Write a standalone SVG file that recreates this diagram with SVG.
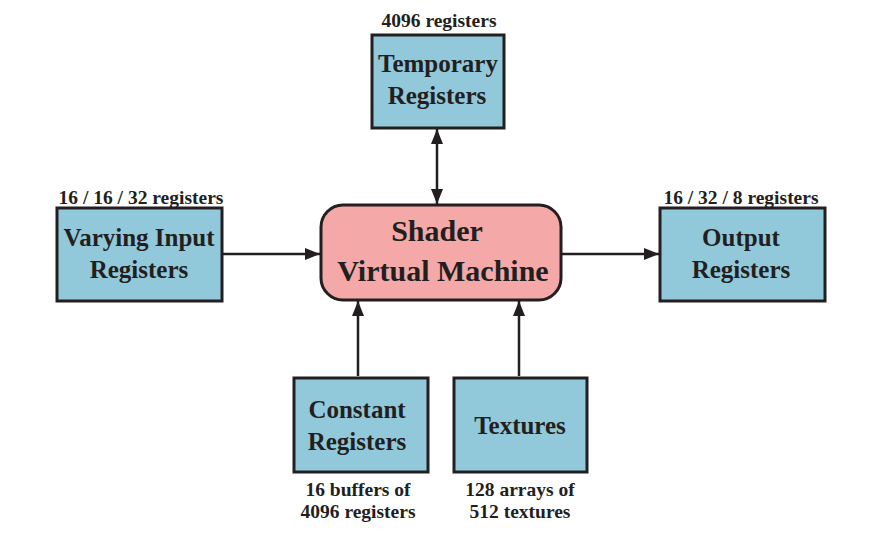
<svg xmlns="http://www.w3.org/2000/svg" width="890" height="542" viewBox="0 0 890 542">
<style>
.box{fill:#92C9DA;stroke:#231F20;stroke-width:3}
.sm{fill:#F4A9A8;stroke:#231F20;stroke-width:3}
.t{font-family:"Liberation Serif",serif;font-weight:bold;font-size:25px;fill:#231F20;text-anchor:middle}
.tb{font-family:"Liberation Serif",serif;font-weight:bold;font-size:30px;fill:#231F20;text-anchor:middle}
.l{font-family:"Liberation Serif",serif;font-weight:bold;font-size:19.5px;fill:#231F20;text-anchor:middle}
.c{stroke:#231F20;stroke-width:2.5;fill:none}
</style>
<defs>
<marker id="ah" viewBox="0 0 10 10" refX="10" refY="5" markerWidth="6" markerHeight="6" orient="auto-start-reverse" markerUnits="strokeWidth">
<path d="M0,1 L10,5 L0,9 z" fill="#231F20"/>
</marker>
</defs>
<rect width="890" height="542" fill="#fff"/>
<g id="connectors">
<line class="c" x1="437" y1="129" x2="437" y2="204" marker-start="url(#ah)" marker-end="url(#ah)"/>
<line class="c" x1="223" y1="254" x2="320" y2="254" marker-end="url(#ah)"/>
<line class="c" x1="562" y1="254" x2="659" y2="254" marker-end="url(#ah)"/>
<line class="c" x1="358" y1="376" x2="358" y2="301" marker-end="url(#ah)"/>
<line class="c" x1="519" y1="376" x2="519" y2="301" marker-end="url(#ah)"/>
</g>
<g id="temporary">
<text class="l" x="439" y="27">4096 registers</text>
<rect class="box" x="372" y="35" width="132" height="93"/>
<text class="t" x="438" y="72">Temporary</text>
<text class="t" x="437" y="104">Registers</text>
</g>
<g id="shader">
<rect class="sm" x="321" y="205" width="240" height="95" rx="22"/>
<text class="tb" x="437" y="241">Shader</text>
<text class="tb" x="443" y="281">Virtual Machine</text>
</g>
<g id="varying">
<text class="l" x="141" y="204">16 / 16 / 32 registers</text>
<rect class="box" x="57" y="208" width="165" height="93"/>
<text class="t" x="139" y="246">Varying Input</text>
<text class="t" x="139" y="278">Registers</text>
</g>
<g id="output">
<text class="l" x="741" y="204">16 / 32 / 8 registers</text>
<rect class="box" x="660" y="208" width="165" height="93"/>
<text class="t" x="741" y="246">Output</text>
<text class="t" x="741" y="278">Registers</text>
</g>
<g id="constant">
<rect class="box" x="294" y="378" width="134" height="94"/>
<text class="t" x="357" y="418">Constant</text>
<text class="t" x="357" y="450">Registers</text>
<text class="l" x="358" y="496">16 buffers of</text>
<text class="l" x="358" y="518">4096 registers</text>
</g>
<g id="textures">
<rect class="box" x="454" y="378" width="133" height="94"/>
<text class="t" x="520" y="434">Textures</text>
<text class="l" x="520" y="496">128 arrays of</text>
<text class="l" x="520" y="518">512 textures</text>
</g>
</svg>
